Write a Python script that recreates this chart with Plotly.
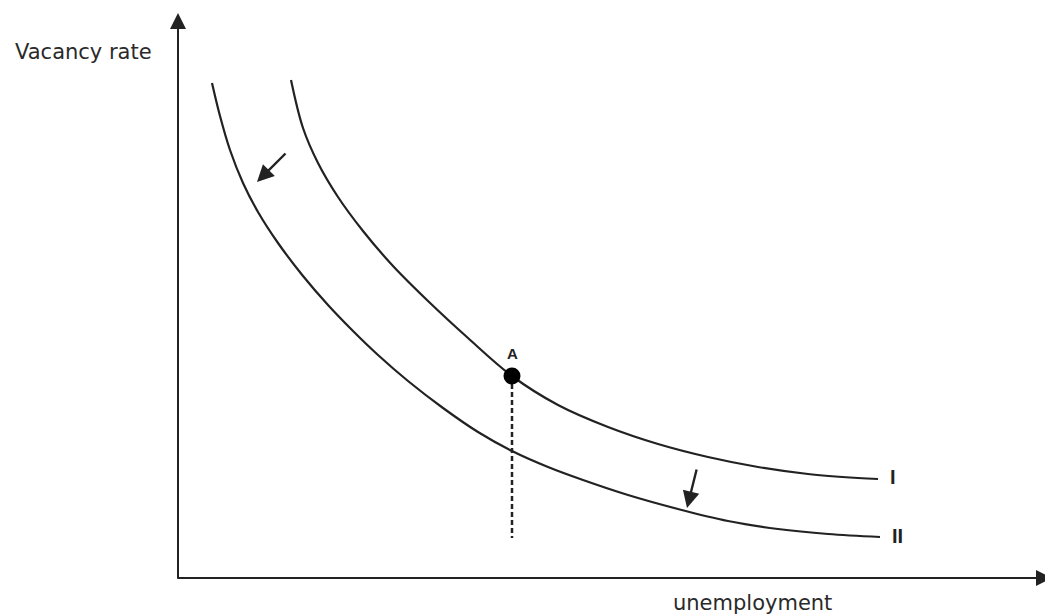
import plotly.graph_objects as go

# Curve I (original Beveridge curve), arbitrary units: origin at axes corner
curve1_x = [113, 125, 140, 160, 185, 215, 250, 290, 334, 380, 430, 480, 530, 580, 630, 680, 700]
curve1_y = [498, 450, 415, 381, 347, 312, 277, 240, 202, 173, 151, 134, 121, 111, 104, 100, 99]

# Curve II (shifted curve)
curve2_x = [34, 42, 52, 65, 80, 100, 125, 150, 175, 200, 230, 265, 300, 334, 370, 405, 450, 500, 550, 600, 650, 702]
curve2_y = [495, 462, 428, 395, 366, 335, 302, 273, 247, 223, 197, 170, 146, 127, 111, 98, 83, 69, 57, 49, 44, 41]

# Point A and its drop line
point_a = (334, 202)
drop_bottom = 40

# Shift arrows (tail -> head)
shift_arrows = [((109, 426), (79, 396)), ((519, 110), (509, 70))]

# Axis extents
x_axis_end = 874
y_axis_end = 565

curve_labels = [("I", 710, 101), ("II", 712, 42)]

ink = "#222222"
fig = go.Figure()

fig.add_trace(go.Scatter(x=curve1_x, y=curve1_y, mode="lines",
                         line=dict(color=ink, width=2.2, shape="spline", smoothing=1.0),
                         hoverinfo="skip"))
fig.add_trace(go.Scatter(x=curve2_x, y=curve2_y, mode="lines",
                         line=dict(color=ink, width=2.2, shape="spline", smoothing=1.0),
                         hoverinfo="skip"))
fig.add_trace(go.Scatter(x=[point_a[0], point_a[0]], y=[point_a[1], drop_bottom], mode="lines",
                         line=dict(color=ink, width=2.5, dash="5px,3px"), hoverinfo="skip"))
fig.add_trace(go.Scatter(x=[point_a[0]], y=[point_a[1]], mode="markers",
                         marker=dict(color="black", size=17), hoverinfo="skip"))

anns = []
# axes with arrowheads
anns.append(dict(x=0, y=y_axis_end, ax=0, ay=-2, xref="x", yref="y", axref="x", ayref="y",
                 text="", showarrow=True, arrowhead=2, arrowsize=1.6, arrowwidth=2,
                 arrowcolor=ink, standoff=0))
anns.append(dict(x=x_axis_end, y=0, ax=-2, ay=0, xref="x", yref="y", axref="x", ayref="y",
                 text="", showarrow=True, arrowhead=2, arrowsize=1.6, arrowwidth=2,
                 arrowcolor=ink, standoff=0))
for (tx, ty), (hx, hy) in shift_arrows:
    anns.append(dict(x=hx, y=hy, ax=tx, ay=ty, xref="x", yref="y", axref="x", ayref="y",
                     text="", showarrow=True, arrowhead=2, arrowsize=1.4, arrowwidth=2.4,
                     arrowcolor=ink, standoff=0))
anns.append(dict(x=-95, y=526, xref="x", yref="y", text="Vacancy rate", showarrow=False,
                 font=dict(family="DejaVu Sans", size=21, color="#2a2a2a")))
anns.append(dict(x=574, y=-25, xref="x", yref="y", text="unemployment", showarrow=False,
                 font=dict(family="DejaVu Sans", size=21, color="#2a2a2a")))
anns.append(dict(x=point_a[0], y=point_a[1] + 23, xref="x", yref="y", text="<b>A</b>",
                 showarrow=False, font=dict(family="Liberation Sans", size=15, color=ink)))
for t, lx, ly in curve_labels:
    anns.append(dict(x=lx, y=ly, xref="x", yref="y", text="<b>" + t + "</b>", showarrow=False,
                     xanchor="left",
                     font=dict(family="Liberation Sans", size=20, color=ink)))

# page body has an 8px margin: size and ranges are set so 1 unit = 1 screen pixel
fig.update_layout(
    width=1045, height=607,
    margin=dict(l=0, r=0, t=0, b=0),
    paper_bgcolor="white", plot_bgcolor="white",
    showlegend=False,
    xaxis=dict(range=[-170, 875], visible=False, fixedrange=True),
    yaxis=dict(range=[-37, 570], visible=False, fixedrange=True),
    annotations=anns,
)
fig.add_shape(type="line", x0=0, y0=0, x1=0, y1=y_axis_end - 5, line=dict(color=ink, width=2), xref="x", yref="y")
fig.add_shape(type="line", x0=0, y0=0, x1=x_axis_end - 5, y1=0, line=dict(color=ink, width=2), xref="x", yref="y")

fig.write_html("out.html")
